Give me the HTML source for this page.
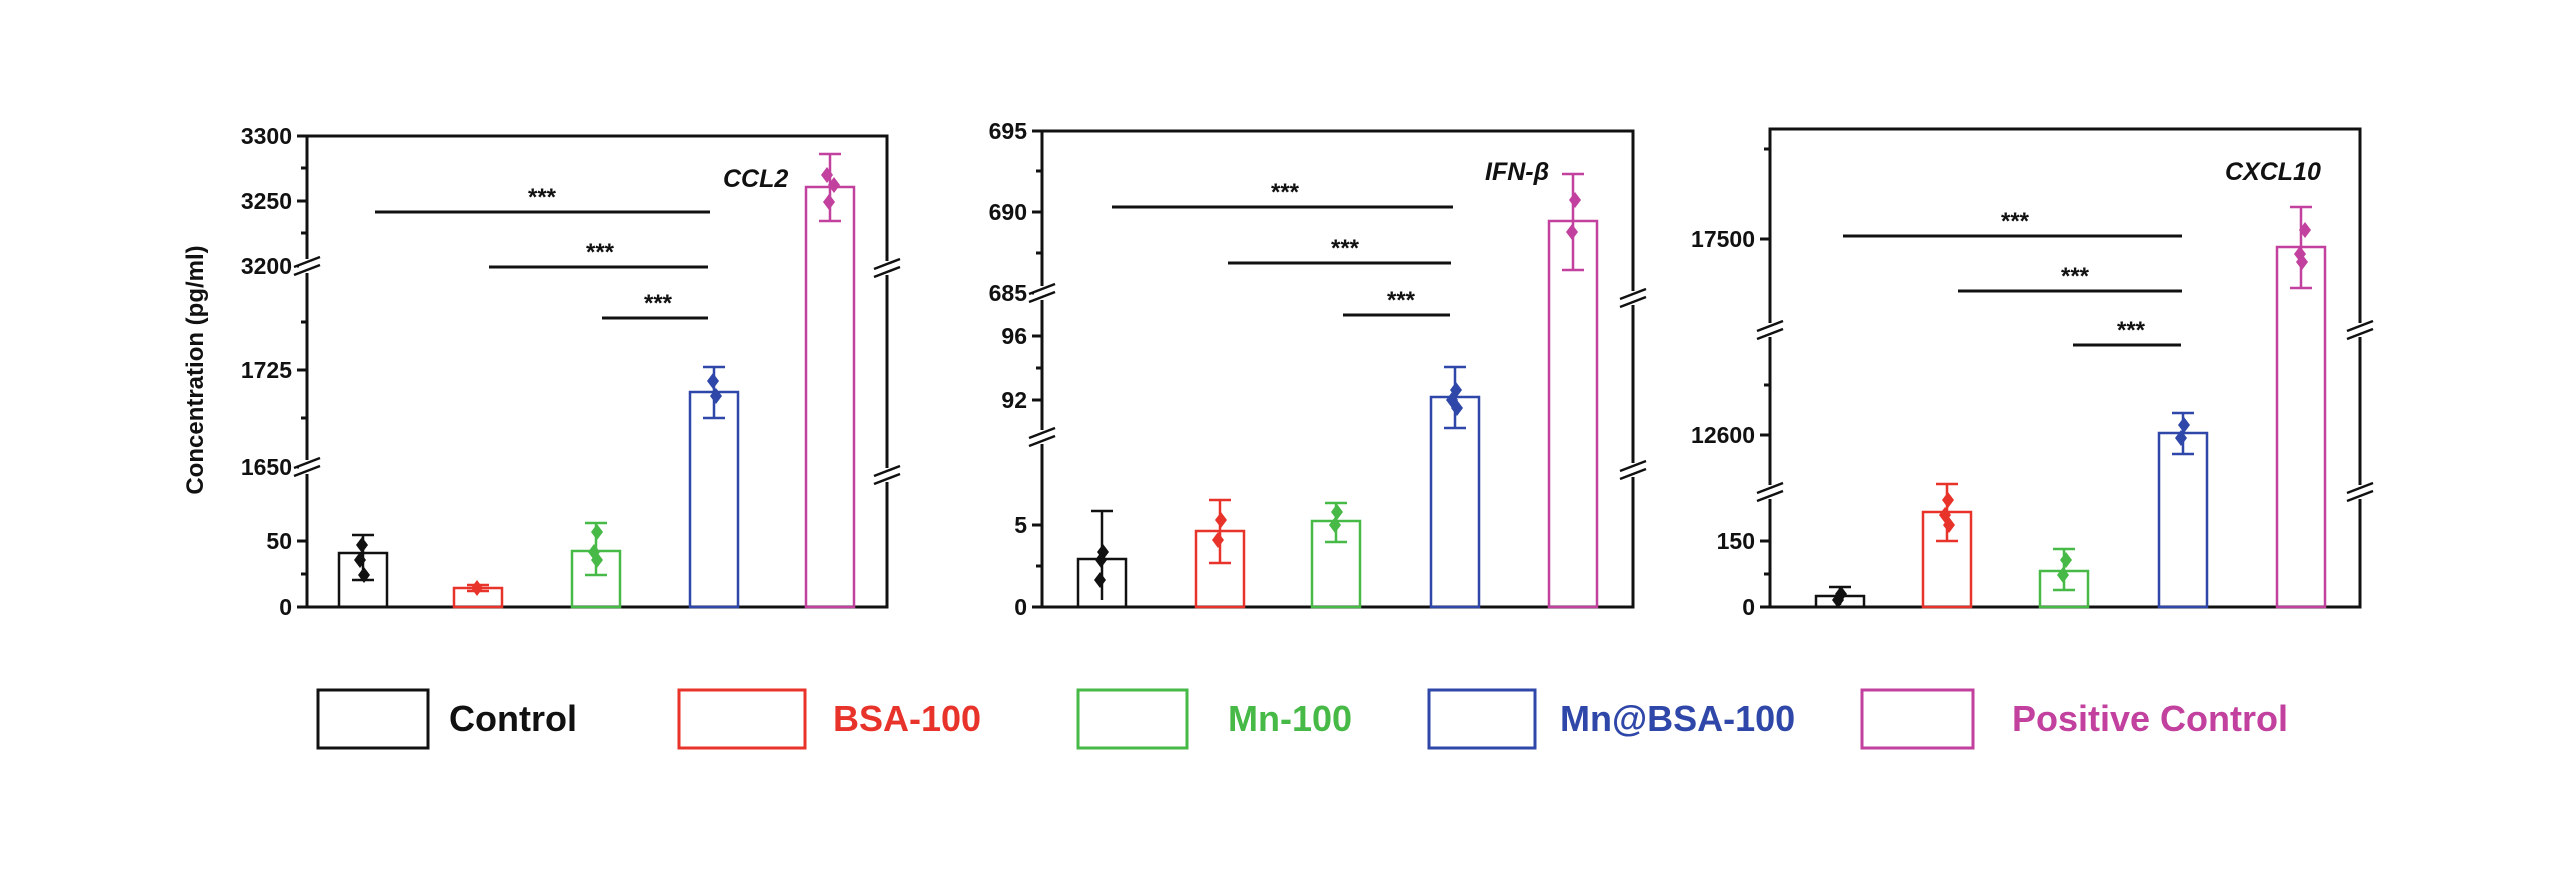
<!DOCTYPE html>
<html><head><meta charset="utf-8"><style>
html,body{margin:0;padding:0;background:#fff;}
svg{display:block;}
text{font-family:"Liberation Sans",Arial,sans-serif;font-weight:bold;}
</style></head><body>
<svg width="2560" height="869" viewBox="0 0 2560 869" xmlns="http://www.w3.org/2000/svg">
<defs>
<g id="brk"><rect x="-8" y="-7" width="16" height="14" fill="#fff"/><line x1="-13" y1="1" x2="13" y2="-9" stroke="#111" stroke-width="2.5"/><line x1="-13" y1="9" x2="13" y2="-1" stroke="#111" stroke-width="2.5"/></g>
<path id="dm" d="M0,-8 L6,0 L0,8 L-6,0Z"/>
</defs>
<rect width="2560" height="869" fill="#fff"/>
<text transform="translate(203,370) rotate(-90)" text-anchor="middle" font-size="24" fill="#111">Concentration (pg/ml)</text>

<!-- Panel 1 -->
<g stroke="#111" stroke-width="3" fill="none">
<rect x="307" y="136" width="580" height="471"/>
<path d="M297,136h10M297,201h10M297,266h10M297,370h10M297,467h10M297,541h10M297,607h10M301,168h6M301,233h6M301,322h6M301,418h6M301,574h6"/>
</g>
<g font-size="23" fill="#111" text-anchor="end">
<text x="292" y="144">3300</text><text x="292" y="209">3250</text><text x="292" y="274">3200</text><text x="292" y="378">1725</text><text x="292" y="475">1650</text><text x="292" y="549">50</text><text x="292" y="615">0</text>
</g>
<use href="#brk" x="307" y="266"/><use href="#brk" x="307" y="467"/><use href="#brk" x="887" y="268"/><use href="#brk" x="887" y="475"/>
<g stroke="#111" stroke-width="3"><line x1="375" y1="212" x2="710" y2="212"/><line x1="489" y1="267" x2="708" y2="267"/><line x1="602" y1="318" x2="708" y2="318"/></g>
<g font-size="24" fill="#111" text-anchor="middle"><text x="542" y="205">***</text><text x="600" y="260">***</text><text x="658" y="311">***</text></g>
<text x="723" y="187" font-size="25" font-style="italic" fill="#111">CCL2</text>
<g fill="none" stroke-width="2.5">
<g stroke="#111"><rect x="339" y="553" width="48" height="54"/><path d="M363,535V580M352,535h22M352,580h22"/></g>
<g stroke="#e8332a"><rect x="454" y="588" width="48" height="19"/><path d="M478,585V591M467,585h22M467,591h22"/></g>
<g stroke="#46b946"><rect x="572" y="551" width="48" height="56"/><path d="M596,523V575M585,523h22M585,575h22"/></g>
<g stroke="#2e47a8"><rect x="690" y="392" width="48" height="215"/><path d="M714,367V418M703,367h22M703,418h22"/></g>
<g stroke="#c2409e"><rect x="806" y="187" width="48" height="420"/><path d="M830,154V221M819,154h22M819,221h22"/></g>
</g>
<use href="#dm" x="362" y="545" fill="#111"/><use href="#dm" x="360" y="560" fill="#111"/><use href="#dm" x="364" y="575" fill="#111"/>
<use href="#dm" x="477" y="588" fill="#e8332a"/>
<use href="#dm" x="597" y="532" fill="#46b946"/><use href="#dm" x="594" y="552" fill="#46b946"/><use href="#dm" x="597" y="560" fill="#46b946"/>
<use href="#dm" x="713" y="381" fill="#2e47a8"/><use href="#dm" x="716" y="396" fill="#2e47a8"/>
<use href="#dm" x="827" y="175" fill="#c2409e"/><use href="#dm" x="834" y="185" fill="#c2409e"/><use href="#dm" x="829" y="202" fill="#c2409e"/>

<!-- Panel 2 -->
<g stroke="#111" stroke-width="3" fill="none">
<rect x="1042" y="131" width="591" height="476"/>
<path d="M1032,131h10M1032,212h10M1032,293h10M1032,336h10M1032,400h10M1032,525h10M1032,607h10M1036,171h6M1036,253h6M1036,368h6M1036,566h6"/>
</g>
<g font-size="23" fill="#111" text-anchor="end">
<text x="1027" y="139">695</text><text x="1027" y="220">690</text><text x="1027" y="301">685</text><text x="1027" y="344">96</text><text x="1027" y="408">92</text><text x="1027" y="533">5</text><text x="1027" y="615">0</text>
</g>
<use href="#brk" x="1042" y="293"/><use href="#brk" x="1042" y="437"/><use href="#brk" x="1633" y="298"/><use href="#brk" x="1633" y="470"/>
<g stroke="#111" stroke-width="3"><line x1="1112" y1="207" x2="1453" y2="207"/><line x1="1228" y1="263" x2="1451" y2="263"/><line x1="1343" y1="315" x2="1450" y2="315"/></g>
<g font-size="24" fill="#111" text-anchor="middle"><text x="1285" y="200">***</text><text x="1345" y="256">***</text><text x="1401" y="308">***</text></g>
<text x="1485" y="180" font-size="25" font-style="italic" fill="#111">IFN-β</text>
<g fill="none" stroke-width="2.5">
<g stroke="#111"><rect x="1078" y="559" width="48" height="48"/><path d="M1102,511V600M1091,511h22"/></g>
<g stroke="#e8332a"><rect x="1196" y="531" width="48" height="76"/><path d="M1220,500V563M1209,500h22M1209,563h22"/></g>
<g stroke="#46b946"><rect x="1312" y="521" width="48" height="86"/><path d="M1336,503V542M1325,503h22M1325,542h22"/></g>
<g stroke="#2e47a8"><rect x="1431" y="397" width="48" height="210"/><path d="M1455,367V428M1444,367h22M1444,428h22"/></g>
<g stroke="#c2409e"><rect x="1549" y="221" width="48" height="386"/><path d="M1573,174V270M1562,174h22M1562,270h22"/></g>
</g>
<use href="#dm" x="1103" y="552" fill="#111"/><use href="#dm" x="1101" y="560" fill="#111"/><use href="#dm" x="1100" y="580" fill="#111"/>
<use href="#dm" x="1221" y="520" fill="#e8332a"/><use href="#dm" x="1218" y="540" fill="#e8332a"/>
<use href="#dm" x="1337" y="512" fill="#46b946"/><use href="#dm" x="1335" y="525" fill="#46b946"/>
<use href="#dm" x="1456" y="390" fill="#2e47a8"/><use href="#dm" x="1452" y="400" fill="#2e47a8"/><use href="#dm" x="1457" y="408" fill="#2e47a8"/>
<use href="#dm" x="1575" y="200" fill="#c2409e"/><use href="#dm" x="1572" y="232" fill="#c2409e"/>

<!-- Panel 3 -->
<g stroke="#111" stroke-width="3" fill="none">
<rect x="1770" y="129" width="590" height="478"/>
<path d="M1760,239h10M1760,435h10M1760,541h10M1760,607h10M1764,149h6M1764,385h6M1764,574h6"/>
</g>
<g font-size="23" fill="#111" text-anchor="end">
<text x="1755" y="247">17500</text><text x="1755" y="443">12600</text><text x="1755" y="549">150</text><text x="1755" y="615">0</text>
</g>
<use href="#brk" x="1770" y="330"/><use href="#brk" x="1770" y="492"/><use href="#brk" x="2360" y="330"/><use href="#brk" x="2360" y="492"/>
<g stroke="#111" stroke-width="3"><line x1="1843" y1="236" x2="2182" y2="236"/><line x1="1958" y1="291" x2="2182" y2="291"/><line x1="2073" y1="345" x2="2181" y2="345"/></g>
<g font-size="24" fill="#111" text-anchor="middle"><text x="2015" y="229">***</text><text x="2075" y="284">***</text><text x="2131" y="338">***</text></g>
<text x="2225" y="180" font-size="25" font-style="italic" fill="#111">CXCL10</text>
<g fill="none" stroke-width="2.5">
<g stroke="#111"><rect x="1816" y="596" width="48" height="11"/><path d="M1840,587V605M1829,587h22"/></g>
<g stroke="#e8332a"><rect x="1923" y="512" width="48" height="95"/><path d="M1947,484V541M1936,484h22M1936,541h22"/></g>
<g stroke="#46b946"><rect x="2040" y="571" width="48" height="36"/><path d="M2064,549V590M2053,549h22M2053,590h22"/></g>
<g stroke="#2e47a8"><rect x="2159" y="433" width="48" height="174"/><path d="M2183,413V454M2172,413h22M2172,454h22"/></g>
<g stroke="#c2409e"><rect x="2277" y="247" width="48" height="360"/><path d="M2301,207V288M2290,207h22M2290,288h22"/></g>
</g>
<use href="#dm" x="1841" y="594" fill="#111"/><use href="#dm" x="1838" y="600" fill="#111"/>
<use href="#dm" x="1948" y="500" fill="#e8332a"/><use href="#dm" x="1945" y="515" fill="#e8332a"/><use href="#dm" x="1949" y="525" fill="#e8332a"/>
<use href="#dm" x="2066" y="560" fill="#46b946"/><use href="#dm" x="2063" y="575" fill="#46b946"/>
<use href="#dm" x="2184" y="425" fill="#2e47a8"/><use href="#dm" x="2181" y="438" fill="#2e47a8"/>
<use href="#dm" x="2305" y="230" fill="#c2409e"/><use href="#dm" x="2300" y="254" fill="#c2409e"/><use href="#dm" x="2302" y="262" fill="#c2409e"/>

<!-- Legend -->
<g fill="none" stroke-width="3">
<rect x="318" y="690" width="110" height="58" stroke="#111"/>
<rect x="679" y="690" width="126" height="58" stroke="#e8332a"/>
<rect x="1078" y="690" width="109" height="58" stroke="#46b946"/>
<rect x="1429" y="690" width="106" height="58" stroke="#2e47a8"/>
<rect x="1862" y="690" width="111" height="58" stroke="#c2409e"/>
</g>
<g font-size="36">
<text x="449" y="731" fill="#111">Control</text>
<text x="833" y="731" fill="#e8332a">BSA-100</text>
<text x="1228" y="731" fill="#46b946">Mn-100</text>
<text x="1560" y="731" fill="#2e47a8">Mn@BSA-100</text>
<text x="2012" y="731" fill="#c2409e">Positive Control</text>
</g>
</svg>
</body></html>
